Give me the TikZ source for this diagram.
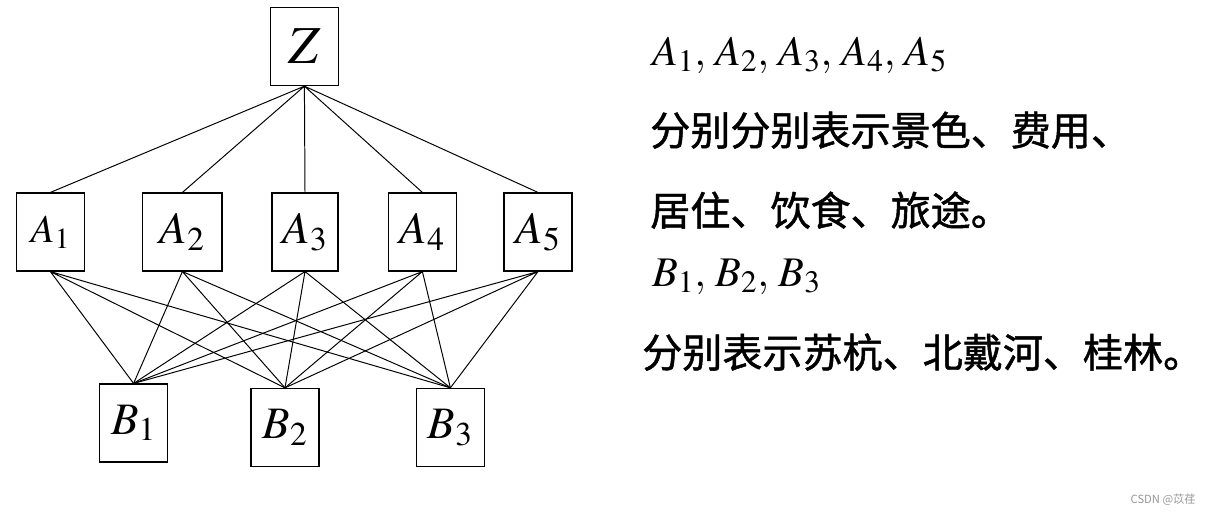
\documentclass[tikz,border=0pt]{standalone}
\usepackage{mathptmx}
\usepackage[no-math]{fontspec}
\setmainfont{Liberation Serif}
\newfontfamily\cjk{Noto Sans CJK SC}
\newfontfamily\cjkheavy[FakeBold=1.2]{Noto Sans CJK SC}
\usepackage{xcolor}
\usepackage{tikz}
\usetikzlibrary{positioning}
\definecolor{markgray}{RGB}{150,150,150}

\begin{document}
\begin{tikzpicture}[
  box/.style={rectangle, draw, line width=0.8pt, inner sep=0pt, minimum width=1.7cm, minimum height=1.95cm, font=\fontsize{32}{38}\selectfont},
  link/.style={line width=0.7pt},
  note/.style={anchor=west, inner sep=0pt, font=\cjkheavy\fontsize{28.5}{34}\selectfont},
  symline/.style={anchor=west, inner sep=0pt, font=\fontsize{30}{36}\selectfont}
]
\useasboundingbox (0,0) rectangle (30.225,12.875);

% Goal
\node[box, font=\fontsize{38}{44}\selectfont] (Z) at (7.61, 11.71) {$Z$};

% Criteria
\node[box, font=\fontsize{28}{34}\selectfont] (A1) at (1.26, 7.075) {$A_1$};
\node[box, minimum width=1.98cm] (A2) at (4.56, 7.075) {$A_2$};
\node[box, minimum width=1.65cm] (A3) at (7.625, 7.075) {$A_3$};
\node[box] (A4) at (10.56, 7.075) {$A_4$};
\node[box] (A5) at (13.45, 7.075) {$A_5$};

% Alternatives
\node[box] (B1) at (3.34, 2.3) {$B_1$};
\node[box] (B2) at (7.125, 2.19) {$B_2$};
\node[box] (B3) at (11.26, 2.19) {$B_3$};

% Goal to criteria
\draw[link] (Z.south) -- (A1.north) (Z.south) -- (A2.north) (Z.south) -- (A3.north)
  (Z.south) -- (A4.north) (Z.south) -- (A5.north);

% Criteria to alternatives
\draw[link] (A1.south) -- (B1.north) (A1.south) -- (B2.north) (A1.south) -- (B3.north);
\draw[link] (A2.south) -- (B1.north) (A2.south) -- (B2.north) (A2.south) -- (B3.north);
\draw[link] (A3.south) -- (B1.north) (A3.south) -- (B2.north) (A3.south) -- (B3.north);
\draw[link] (A4.south) -- (B1.north) (A4.south) -- (B2.north) (A4.south) -- (B3.north);
\draw[link] (A5.south) -- (B1.north) (A5.south) -- (B2.north) (A5.south) -- (B3.north);

% Legend text
\node[symline] (asym) at (16.3, 11.5) {$A_1,\, A_2,\, A_3,\, A_4,\, A_5$};
\node[note] (adesc1) at (16.25, 9.62) {分别分别表示景色、费用、};
\node[note] (adesc2) at (16.25, 7.62) {居住、饮食、旅途。};
\node[symline] (bsym) at (16.3, 5.95) {$B_1,\, B_2,\, B_3$};
\node[note] (bdesc) at (16.05, 4.07) {分别表示苏杭、北戴河、桂林。};

\node[anchor=east, inner sep=0pt, text=markgray, font=\cjk\fontsize{8}{10}\selectfont] (mark) at (29.9, 0.38) {CSDN @苡荏};

\end{tikzpicture}
\end{document}
